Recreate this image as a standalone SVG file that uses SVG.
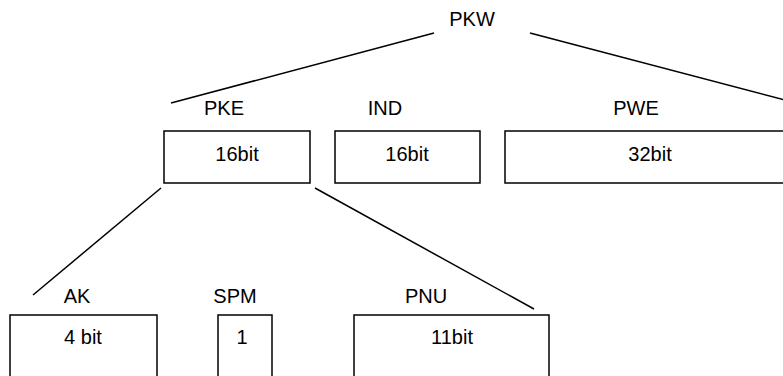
<svg xmlns="http://www.w3.org/2000/svg" width="783" height="376" viewBox="0 0 783 376">
<style>
.box{fill:#fff;stroke:#000;stroke-width:1.5}
.ln{stroke:#000;stroke-width:1.5;fill:none}
text{font-family:"Liberation Sans",Arial,sans-serif;font-size:20px;fill:#000;text-anchor:middle}
</style>
<rect width="783" height="376" fill="#fff"/>
<g id="connectors">
<line class="ln" x1="171" y1="103" x2="434" y2="33"/>
<line class="ln" x1="530" y1="33" x2="785" y2="100"/>
<line class="ln" x1="161" y1="188" x2="33" y2="295"/>
<line class="ln" x1="315" y1="188" x2="534" y2="309"/>
</g>
<g id="PKW"><text x="472" y="26">PKW</text></g>
<g id="PKE"><text x="224" y="115">PKE</text><rect class="box" x="164" y="131" width="146" height="52"/><text x="237" y="161">16bit</text></g>
<g id="IND"><text x="385" y="115">IND</text><rect class="box" x="335" y="131" width="145" height="52"/><text x="407" y="161">16bit</text></g>
<g id="PWE"><text x="636" y="115">PWE</text><rect class="box" x="505" y="131" width="290" height="52"/><text x="650" y="161">32bit</text></g>
<g id="AK"><text x="77" y="303">AK</text><rect class="box" x="10" y="315" width="147" height="70"/><text x="83" y="344">4 bit</text></g>
<g id="SPM"><text x="235" y="303">SPM</text><rect class="box" x="218" y="315" width="54" height="70"/><text x="242" y="344">1</text></g>
<g id="PNU"><text x="426" y="303">PNU</text><rect class="box" x="354" y="315" width="195" height="70"/><text x="452" y="344">11bit</text></g>
</svg>
